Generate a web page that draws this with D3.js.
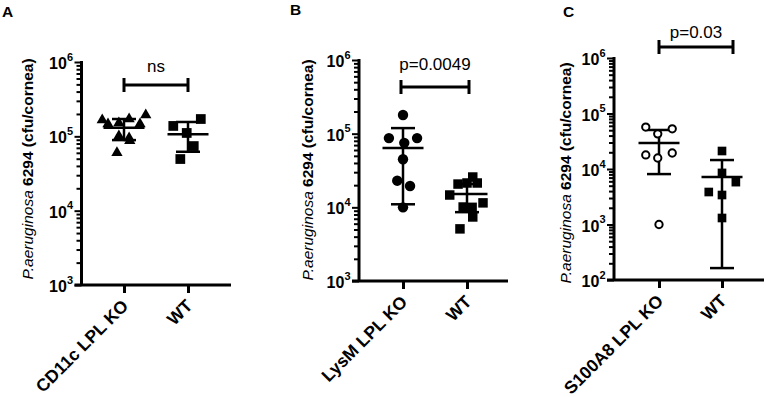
<!DOCTYPE html>
<html><head><meta charset="utf-8">
<script src="https://cdn.jsdelivr.net/npm/d3@7"></script>
<style>
body{margin:0;background:#fff}
text{font-family:"Liberation Sans",Arial,Helvetica,sans-serif}
</style>
</head><body>
<svg id="c" width="766" height="397"></svg>
<script>
// ---------- data ----------
const catsA = ["CD11c LPL KO", "WT"];
const koA = [1.66e5, 1.47e5, 1.51e5, 1.71e5, 1.47e5, 1.94e5, 1.01e5, 9.5e4, 8.7e4, 6.0e4];
const koAJitter = [-0.34, -0.25, -0.08, 0.08, 0.25, 0.34, -0.08, 0.08, 0.09, -0.11];
const wtA = [1.38e5, 1.71e5, 1.11e5, 7.4e4, 4.95e4];
const wtAJitter = [-0.23, 0.2, -0.02, 0.09, -0.12];
const meanA = [1.3e5, 1.07e5];
const sdHighA = [1.71e5, 1.56e5];
const sdLowA = [8.9e4, 6.2e4];
const sigA = "ns";

const catsB = ["LysM LPL KO", "WT"];
const koB = [1.79e5, 8.7e4, 7.5e4, 8.7e4, 4.5e4, 2.3e4, 1.95e4, 1.0e4];
const koBJitter = [0, -0.22, 0.02, 0.22, 0, -0.09, 0.11, 0];
const wtB = [1.47e4, 2.07e4, 2.14e4, 2.58e4, 2.14e4, 1.15e4, 1.01e4, 1.0e4, 7.4e3, 5.1e3];
const wtBJitter = [-0.27, -0.14, 0, 0.09, 0.16, 0.25, -0.06, 0.08, 0.09, -0.11];
const meanB = [6.4e4, 1.52e4];
const sdHighB = [1.19e5, 2.07e4];
const sdLowB = [1.1e4, 8.6e3];
const sigB = "p=0.0049";

const catsC = ["S100A8 LPL KO", "WT"];
const koC = [5.7e4, 5.3e4, 4.3e4, 1.79e4, 1.94e4, 1.58e4, 1.0e3];
const koCJitter = [-0.21, 0.21, -0.02, -0.21, 0.21, -0.02, 0];
const wtC = [2.11e4, 8.5e3, 5.8e3, 3.85e3, 3.4e3, 1.31e3];
const wtCJitter = [0, 0, 0.22, -0.21, 0, 0];
const meanC = [2.94e4, 7.2e3];
const sdHighC = [5.05e4, 1.45e4];
const sdLowC = [8.1e3, 164];
const sigC = "p=0.03";

const yDomainA = [1e3, 1e6], yDomainB = [1e3, 1e6], yDomainC = [1e2, 1e6];

// ---------- drawing ----------
const svg = d3.select("#c");
svg.append("rect").attr("width", 766).attr("height", 397).attr("fill", "#fff");

function panel(cfg) {
  const g = svg.append("g");
  const y = d3.scaleLog().domain(cfg.yDomain).range([cfg.yBottom, cfg.yTop]);
  const x = d3.scaleLinear().domain([0, 1]).range([cfg.cx0, cfg.cx1]);

  // panel letter
  g.append("text").attr("x", cfg.letterX).attr("y", cfg.letterY)
    .attr("font-size", 15.5).attr("font-weight", "bold").text(cfg.letter);

  // y axis with log minor ticks
  const lo = Math.log10(cfg.yDomain[0]), hi = Math.log10(cfg.yDomain[1]);
  const major = d3.range(lo, hi + 1).map(e => Math.pow(10, e));
  const minor = [];
  for (let e = lo; e < hi; e++) for (let m = 2; m <= 9; m++) minor.push(m * Math.pow(10, e));
  const yAxisMinor = d3.axisLeft(y).tickValues(minor).tickSize(5).tickFormat("");
  const gm = g.append("g").attr("transform", `translate(${cfg.axisX},0)`).call(yAxisMinor);
  const yAxisMajor = d3.axisLeft(y).tickValues(major).tickSize(7).tickFormat("");
  const gM = g.append("g").attr("transform", `translate(${cfg.axisX},0)`).call(yAxisMajor);
  [gm, gM].forEach(a => {
    a.select(".domain").remove();
    a.selectAll(".tick line").attr("stroke", "#000").attr("stroke-width", 2);
  });
  g.append("line").attr("x1", cfg.axisX).attr("x2", cfg.axisX)
    .attr("y1", cfg.yTop - 1).attr("y2", cfg.yBottom)
    .attr("stroke", "#000").attr("stroke-width", 3);

  // y tick labels 10^n
  major.forEach(v => {
    const t = g.append("text").attr("x", cfg.axisX - 8.5).attr("y", y(v) + 7)
      .attr("text-anchor", "end").attr("font-weight", "bold").attr("font-size", 16);
    t.append("tspan").text("10");
    t.append("tspan").attr("font-size", 11).attr("dy", -8.5).text(Math.round(Math.log10(v)));
  });

  // x axis
  g.append("line").attr("x1", cfg.axisX - 7).attr("x2", cfg.xEnd)
    .attr("y1", cfg.yBottom).attr("y2", cfg.yBottom)
    .attr("stroke", "#000").attr("stroke-width", 3);
  const xAxis = d3.axisBottom(x).tickValues([0, 1]).tickSize(8).tickFormat(i => cfg.cats[i]);
  const gx = g.append("g").attr("transform", `translate(0,${cfg.yBottom})`).call(xAxis);
  gx.select(".domain").remove();
  gx.selectAll(".tick line").attr("stroke", "#000").attr("stroke-width", 3);
  gx.selectAll(".tick text")
    .attr("font-family", '"Liberation Sans",Arial,sans-serif')
    .attr("font-size", 17.5).attr("font-weight", "bold").attr("fill", "#000")
    .attr("text-anchor", "end").attr("dy", null).attr("y", 0)
    .attr("transform", "translate(5,22) rotate(-45)");

  // y axis title
  const tt = g.append("text").attr("transform", `translate(${cfg.titleX},${cfg.titleY}) rotate(-90)`)
    .attr("text-anchor", "middle").attr("font-size", 15.5);
  tt.append("tspan").attr("font-style", "italic").text("P.aeruginosa ");
  tt.append("tspan").attr("font-weight", "bold").text("6294 (cfu/cornea)");

  // points
  const groups = [
    {vals: cfg.ko, jit: cfg.koJit, idx: 0, shape: cfg.koShape},
    {vals: cfg.wt, jit: cfg.wtJit, idx: 1, shape: cfg.wtShape}
  ];
  const pts = g.append("g");
  groups.forEach(gr => {
    gr.vals.forEach((v, i) => {
      const px = x(gr.idx + gr.jit[i]), py = y(v);
      const s = gr.shape;
      pts.append("path")
        .attr("d", d3.symbol().type(s.type).size(s.size)())
        .attr("transform", `translate(${px},${py})`)
        .attr("fill", s.open ? "#fff" : "#000")
        .attr("stroke", s.open ? "#000" : "none")
        .attr("stroke-width", s.open ? 2 : 0);
    });
  });

  // mean & SD bars
  const eb = g.append("g").attr("stroke", "#000").attr("stroke-width", 2.5);
  [0, 1].forEach(i => {
    const cx = x(i);
    eb.append("line").attr("x1", cx - 20.5).attr("x2", cx + 20.5).attr("y1", y(cfg.mean[i])).attr("y2", y(cfg.mean[i]));
    eb.append("line").attr("x1", cx).attr("x2", cx).attr("y1", y(cfg.sdHigh[i])).attr("y2", y(cfg.sdLow[i]));
    eb.append("line").attr("x1", cx - 12).attr("x2", cx + 12).attr("y1", y(cfg.sdHigh[i])).attr("y2", y(cfg.sdHigh[i]));
    eb.append("line").attr("x1", cx - 12).attr("x2", cx + 12).attr("y1", y(cfg.sdLow[i])).attr("y2", y(cfg.sdLow[i]));
  });
  if (cfg.openOnTop) pts.raise();

  // significance bracket
  const bg = g.append("g").attr("stroke", "#000").attr("stroke-width", 3);
  bg.append("line").attr("x1", cfg.br0).attr("x2", cfg.br1).attr("y1", cfg.brY).attr("y2", cfg.brY);
  [cfg.br0, cfg.br1].forEach(bx => bg.append("line").attr("x1", bx).attr("x2", bx)
    .attr("y1", cfg.brY - 7).attr("y2", cfg.brY + 7));
  g.append("text").attr("x", (cfg.br0 + cfg.br1) / 2).attr("y", cfg.sigY)
    .attr("text-anchor", "middle").attr("font-size", 17).text(cfg.sig);
}

panel({letter: "A", letterX: 2, letterY: 17, yDomain: yDomainA, yTop: 62, yBottom: 285,
  axisX: 81.5, xEnd: 231, cx0: 124, cx1: 188, cats: catsA,
  ko: koA, koJit: koAJitter, wt: wtA, wtJit: wtAJitter,
  koShape: {type: d3.symbolTriangle, size: 55}, wtShape: {type: d3.symbolSquare, size: 95},
  mean: meanA, sdHigh: sdHighA, sdLow: sdLowA,
  br0: 124, br1: 188, brY: 85, sig: sigA, sigY: 72, titleX: 33, titleY: 169});

panel({letter: "B", letterX: 290, letterY: 15, yDomain: yDomainB, yTop: 60, yBottom: 281,
  axisX: 359, xEnd: 508, cx0: 403, cx1: 467, cats: catsB,
  ko: koB, koJit: koBJitter, wt: wtB, wtJit: wtBJitter,
  koShape: {type: d3.symbolCircle, size: 85}, wtShape: {type: d3.symbolSquare, size: 90},
  mean: meanB, sdHigh: sdHighB, sdLow: sdLowB,
  br0: 401, br1: 469, brY: 87, sig: sigB, sigY: 70, titleX: 313, titleY: 170});

panel({letter: "C", letterX: 563, letterY: 17, yDomain: yDomainC, yTop: 58, yBottom: 280,
  axisX: 614, xEnd: 764, cx0: 659, cx1: 722, cats: catsC,
  ko: koC, koJit: koCJitter, wt: wtC, wtJit: wtCJitter,
  koShape: {type: d3.symbolCircle, size: 42, open: true}, wtShape: {type: d3.symbolSquare, size: 75},
  mean: meanC, sdHigh: sdHighC, sdLow: sdLowC, openOnTop: true,
  br0: 659, br1: 733, brY: 47, sig: sigC, sigY: 38, titleX: 571, titleY: 173});
</script>
</body></html>
